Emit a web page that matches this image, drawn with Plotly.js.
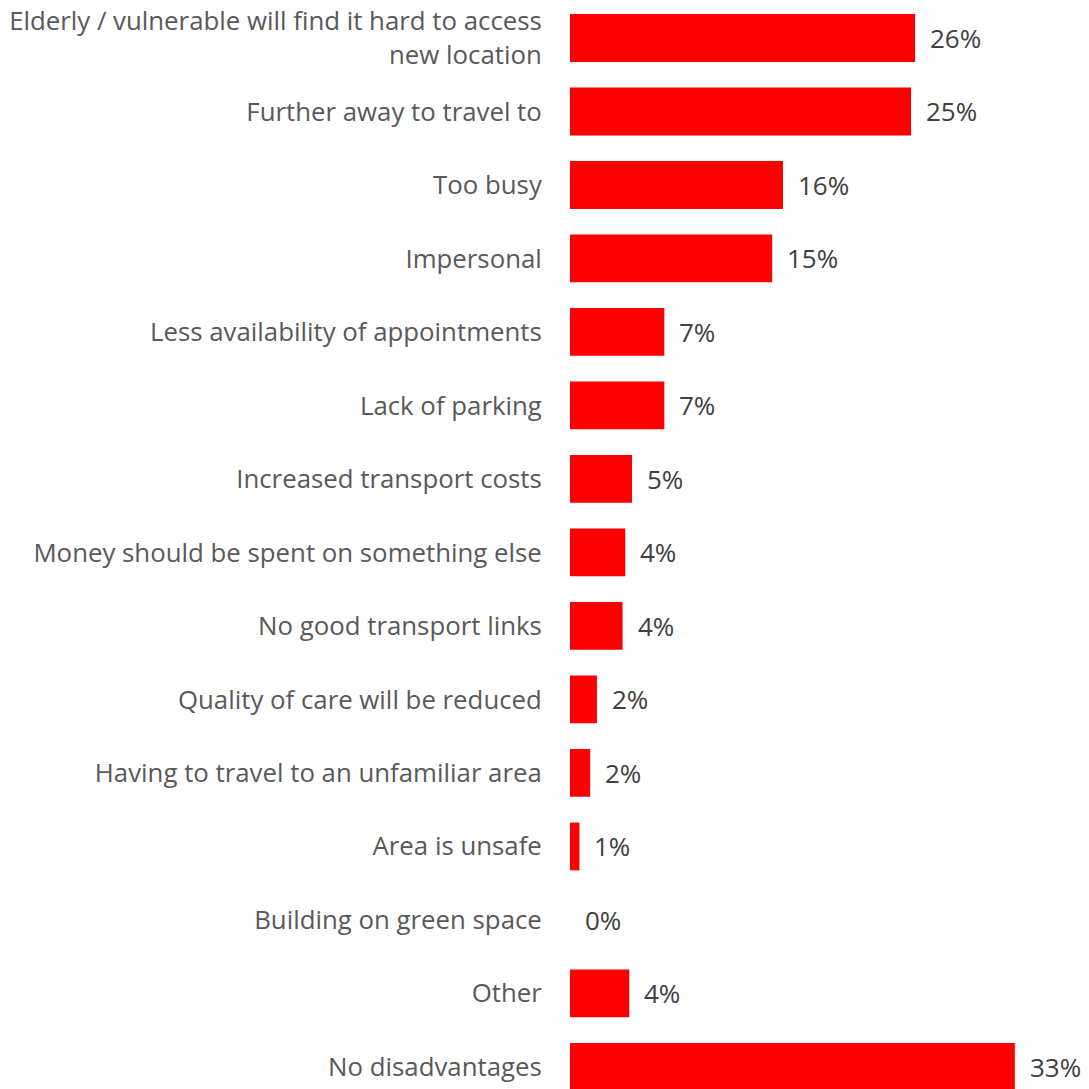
<!DOCTYPE html>
<html><head><meta charset="utf-8">
<script src="https://cdn.plot.ly/plotly-3.0.1.min.js"></script>
<style>html,body{margin:0;padding:0;background:#fff}#chart{width:1089px;height:1089px}</style>
</head><body><div id="chart"></div>
<script>
const categories = [
  "Elderly / vulnerable will find it hard to access<br>new location",
  "Further away to travel to",
  "Too busy",
  "Impersonal",
  "Less availability of appointments",
  "Lack of parking",
  "Increased transport costs",
  "Money should be spent on something else",
  "No good transport links",
  "Quality of care will be reduced",
  "Having to travel to an unfamiliar area",
  "Area is unsafe",
  "Building on green space",
  "Other",
  "No disadvantages"
];
const values = [25.6, 25.3, 15.8, 15.0, 7.0, 7.0, 4.6, 4.1, 3.9, 2.0, 1.5, 0.7, 0, 4.4, 33.0];
const labels = ["26%","25%","16%","15%","7%","7%","5%","4%","4%","2%","2%","1%","0%","4%","33%"];

const fontFam = "'Open Sans', Lato, sans-serif";
const trace = {
  type: 'bar', orientation: 'h',
  x: values, y: categories,
  marker: {color: '#FF0000'},
  hoverinfo: 'skip'
};
const annotations = values.map((v, i) => ({
  x: v, y: categories[i], xref: 'x', yref: 'y',
  text: labels[i], showarrow: false, xanchor: 'left', yanchor: 'middle',
  xshift: 13, font: {family: fontFam, size: 26, color: '#404040'}
}));
const layout = {
  width: 1089, height: 1089,
  margin: {l: 570, r: 0, t: 0, b: 0, pad: 0},
  paper_bgcolor: '#fff', plot_bgcolor: '#fff',
  bargap: 0.35,
  showlegend: false,
  xaxis: {range: [0, 38.5], visible: false, fixedrange: true},
  yaxis: {
    type: 'category',
    range: [14.3, -0.517],
    showgrid: false, zeroline: false, showline: false,
    ticks: 'outside', ticklen: 22, tickcolor: 'rgba(0,0,0,0)',
    tickfont: {family: fontFam, size: 25.8, color: '#595959'},
    automargin: false
  },
  annotations: annotations
};
Plotly.newPlot('chart', [trace], layout, {staticPlot: true});
</script></body></html>
